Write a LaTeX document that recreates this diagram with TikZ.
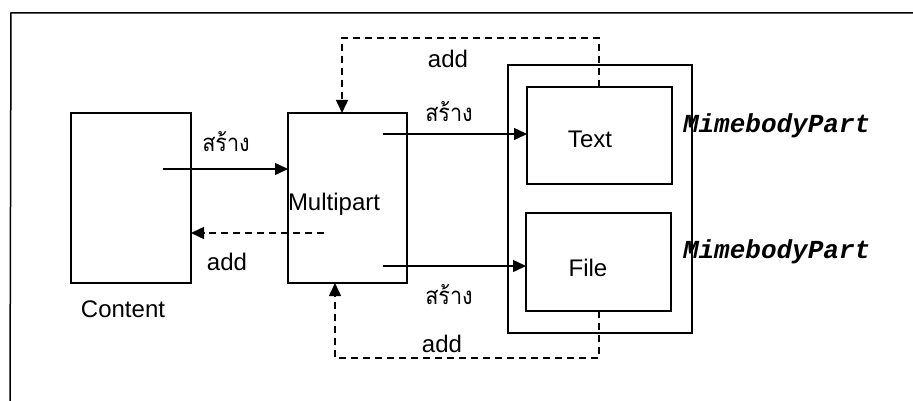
\documentclass[tikz,border=0pt]{standalone}
\usepackage{fontspec}
\setmainfont{Liberation Sans}
\newfontfamily\thaifont[Script=Thai, FakeStretch=0.9]{Loma}
\newfontfamily\codefont{Liberation Mono}
\usetikzlibrary{arrows.meta}
\begin{document}
\begin{tikzpicture}[x=1pt, y=-1pt,
  every node/.style={inner sep=0pt, outer sep=0pt},
  box/.style={draw, line width=1.9pt},
  lbl/.style={font=\fontsize{24}{28}\selectfont, anchor=base},
  thai/.style={font=\thaifont\fontsize{24}{28}\selectfont, anchor=base},
  cls/.style={font=\codefont\bfseries\itshape\fontsize{26}{30}\selectfont, anchor=base west},
  conn/.style={line width=1.5pt, -{Triangle[length=13pt, width=12pt]}},
  dashconn/.style={conn, dash pattern=on 7pt off 5pt}]
\useasboundingbox (0,0) rectangle (913,401);

% open frame: top and left edges only
\draw[line width=1.5pt] (913,13) -- (11,13) -- (10,401);

% boxes
\node[box, minimum width=120pt, minimum height=170pt] (content) at (131,198) {};
\node[box, minimum width=119pt, minimum height=170pt] (multi) at (347.5,198) {};
\node[box, minimum width=184pt, minimum height=268pt] (mime) at (600,199) {};
\node[box, minimum width=145pt, minimum height=97pt] (text) at (599.5,135.5) {};
\node[box, minimum width=145pt, minimum height=98pt] (file) at (598.5,262) {};

% box texts
\node[lbl] (contentlbl) at (123,317) {Content};
\node[lbl, anchor=base west] (multilbl) at (288,210) {Multipart};
\node[lbl] (textlbl) at (590,147) {Text};
\node[lbl] (filelbl) at (588,276) {File};
\node[cls] (mime1) at (683,132) {MimebodyPart};
\node[cls] (mime2) at (683,258) {MimebodyPart};

% create arrows
\coordinate (s1) at (163,169);
\coordinate (s2) at (383,134);
\coordinate (s3) at (383,266);
\draw[conn] (s1) -- (s1 -| multi.west);
\draw[conn] (s2) -- (s2 -| text.west);
\draw[conn] (s3) -- (s3 -| file.west);
\node[thai] (t1) at (226,152) {สร้าง};
\node[thai] (t2) at (449,122) {สร้าง};
\node[thai] (t3) at (449,304) {สร้าง};

% add arrows
\coordinate (a1) at (324,233);
\draw[dashconn] (a1) -- (a1 -| content.east);
\draw[dashconn] (text.north -| 599,0) -- (599,38) -- (342,38) -- (342,0 |- multi.north);
\draw[dashconn] (file.south -| 599,0) -- (599,358) -- (335,358) -- (335,0 |- multi.south);
\node[lbl] (add1) at (227,270) {add};
\node[lbl] (add2) at (448,68) {add};
\node[lbl] (add3) at (442,352) {add};
\end{tikzpicture}
\end{document}
